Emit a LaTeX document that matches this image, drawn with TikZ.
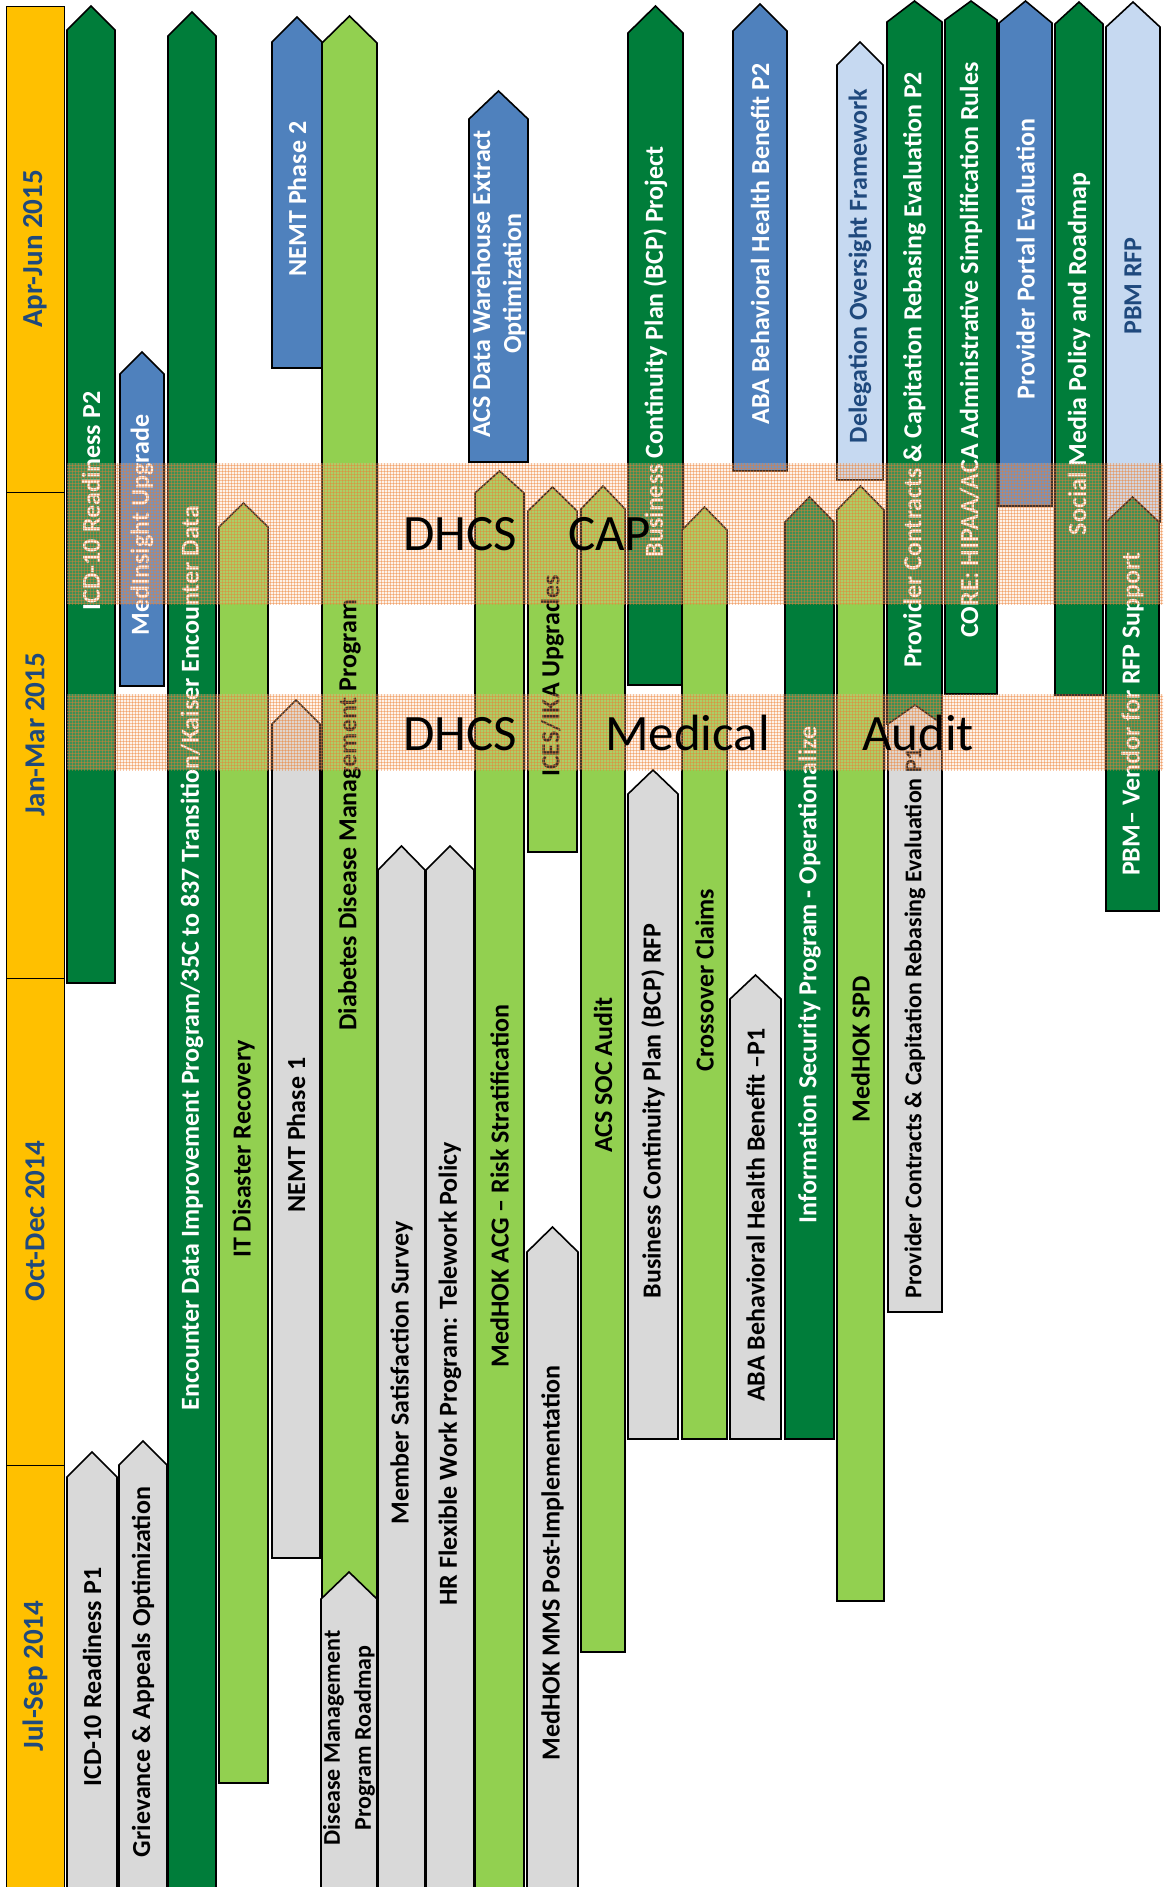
\documentclass[tikz,border=0pt]{standalone}
\usepackage{fontspec}
\setmainfont{Carlito}
\usetikzlibrary{patterns}
\definecolor{dgreen}{RGB}{0,125,58}
\definecolor{lgreen}{RGB}{146,208,80}
\definecolor{bblue}{RGB}{79,129,189}
\definecolor{pblue}{RGB}{198,217,241}
\definecolor{lgray}{RGB}{217,217,217}
\definecolor{navy}{RGB}{31,73,125}
\definecolor{gold}{RGB}{255,192,0}
\definecolor{bandfill}{RGB}{248,203,173}
\definecolor{bandline}{RGB}{237,125,49}
\tikzset{
 barline/.style={draw=black, line width=1.6pt, line join=miter},
 dg/.style={barline, fill=dgreen},
 lg/.style={barline, fill=lgreen},
 bl/.style={barline, fill=bblue},
 pb/.style={barline, fill=pblue},
 gr/.style={barline, fill=lgray},
 lbl/.style={font=\bfseries\fontsize{26}{31}\selectfont, inner sep=0pt, align=center},
 dg text/.style={lbl, text=white},
 lg text/.style={lbl, text=black},
 bl text/.style={lbl, text=white},
 pb text/.style={lbl, text=navy},
 gr text/.style={lbl, text=black},
 yearbox/.style={draw=black, line width=1pt, fill=gold},
 yeartext/.style={font=\bfseries\fontsize{29}{33}\selectfont, text=navy, inner sep=0pt},
 bigtxt/.style={font=\fontsize{51}{55}\selectfont, text=black, inner sep=0pt},
 bandbg/.style={fill=bandfill, opacity=0.25},
 bandgrid/.style={pattern=grid, pattern color=bandline, opacity=0.42},
}
% #1 name, #2 x1, #3 x2, #4 tip y, #5 shoulder y, #6 bottom y, #7 style, #8 label y, #9 label
\newcommand\pbar[9]{%
  \path[#7] (#2,#6) -- (#2,#5) -- ({(#2+#3)/2},#4) -- (#3,#5) -- (#3,#6) -- cycle;
  \node[#7 text, rotate=90] (#1) at ({(#2+#3)/2},#8) {#9};}
\begin{document}
\begin{tikzpicture}[x=1pt, y=-1pt]
\useasboundingbox (0,0) rectangle (1165,1887);
% quarters
\draw[yearbox] (6,6) rectangle (64,492);
\draw[yearbox] (6,492) rectangle (64,978);
\draw[yearbox] (6,978) rectangle (64,1465);
\draw[yearbox] (6,1465) rectangle (64,1890);
\node[yeartext, rotate=90] (q2015b) at (35,249) {Apr-Jun 2015};
\node[yeartext, rotate=90] (q2015a) at (35,735) {Jan-Mar 2015};
\node[yeartext, rotate=90] (q2014d) at (35,1221) {Oct-Dec 2014};
\node[yeartext, rotate=90] (q2014c) at (35,1676) {Jul-Sep 2014};
% bars
\pbar{icdb}{67}{115}{6}{30}{983}{dg}{501}{ICD-10 Readiness P2}
\pbar{medins}{120}{164}{352}{374}{686}{bl}{525}{MedInsight Upgrade}
\pbar{enc}{168}{216}{12}{36}{1890}{dg}{958}{Encounter Data Improvement Program/35C to 837 Transition/Kaiser Encounter Data}
\pbar{itdr}{219}{268}{503}{527}{1783}{lg}{1149}{IT Disaster Recovery}
\pbar{nemtb}{272}{322}{17}{42}{368}{bl}{199}{NEMT Phase 2}
\pbar{nemta}{272}{320}{700}{724}{1558}{gr}{1135}{NEMT Phase 1}
\pbar{diab}{322}{377}{16}{43}{1599}{lg}{815}{Diabetes Disease Management Program}
\pbar{dmroad}{321}{377}{1572}{1599}{1890}{gr}{1738}{\fontsize{24}{31}\selectfont Disease Management\\\fontsize{24}{31}\selectfont Program Roadmap}
\pbar{memsat}{378}{425}{846}{870}{1890}{gr}{1373}{Member Satisfaction Survey}
\pbar{hrflex}{426}{474}{846}{870}{1890}{gr}{1374}{HR Flexible Work Program: Telework Policy}
\pbar{acsdw}{469}{528}{91}{119}{462}{bl}{284}{ACS Data Warehouse Extract\\Optimization}
\pbar{medacg}{475}{524}{471}{493}{1890}{lg}{1186}{MedHOK ACG – Risk Stratification}
\pbar{ices}{528}{577}{487}{511}{852}{lg}{676}{ICES/IKA Upgrades}
\pbar{mms}{527}{578}{1227}{1252}{1890}{gr}{1563}{MedHOK MMS Post-Implementation}
\pbar{acssoc}{581}{625}{486}{509}{1652}{lg}{1075}{ACS SOC Audit}
\pbar{bcpp}{628}{683}{6}{33}{685}{dg}{352}{Business Continuity Plan (BCP) Project}
\pbar{bcprfp}{628}{678}{770}{794}{1439}{gr}{1111}{Business Continuity Plan (BCP) RFP}
\pbar{cross}{682}{727}{507}{530}{1439}{lg}{980}{Crossover Claims}
\pbar{abab}{733}{787}{4}{31}{471}{bl}{244}{ABA Behavioral Health Benefit P2}
\pbar{abaa}{730}{781}{975}{999}{1439}{gr}{1215}{ABA Behavioral Health Benefit –P1}
\pbar{infosec}{785}{834}{497}{522}{1439}{dg}{975}{Information Security Program - Operationalize}
\pbar{deleg}{837}{883}{42}{65}{480}{pb}{266}{Delegation Oversight Framework}
\pbar{spd}{837}{884}{486}{510}{1601}{lg}{1049}{MedHOK SPD}
\pbar{pcpb}{887}{942}{1}{22}{724}{dg}{370}{Provider Contracts \& Capitation Rebasing Evaluation P2}
\pbar{pcpa}{888}{942}{705}{724}{1312}{gr}{1023}{\fontsize{24}{28}\selectfont Provider Contracts \& Capitation Rebasing Evaluation P1}
\pbar{core}{945}{997}{1}{20}{694}{dg}{350}{CORE: HIPAA/ACA Administrative Simplification Rules}
\pbar{portal}{999}{1052}{1}{23}{506}{bl}{259}{Provider Portal Evaluation}
\pbar{social}{1055}{1103}{2}{24}{695}{dg}{354}{Social Media Policy and Roadmap}
\pbar{pbmrfp}{1106}{1160}{2}{27}{522}{pb}{286}{PBM RFP}
\pbar{pbmv}{1106}{1159}{497}{522}{911}{dg}{714}{PBM– Vendor for RFP Support}
\pbar{icda}{67}{117}{1452}{1477}{1890}{gr}{1677}{ICD-10 Readiness P1}
\pbar{griev}{119}{167}{1441}{1465}{1890}{gr}{1672}{Grievance \& Appeals Optimization}
% DHCS bands
\fill[bandbg] (67,463) rectangle (1163,604);
\fill[bandgrid] (67,463) rectangle (1163,604);
\fill[bandbg] (67,694) rectangle (1163,770);
\fill[bandgrid] (67,694) rectangle (1163,770);
\node[bigtxt, anchor=base west] (dhcsa) at (403,550) {DHCS};
\node[bigtxt, anchor=base west] (cap) at (568,550) {CAP};
\node[bigtxt, anchor=base west] (dhcsb) at (403,750) {DHCS};
\node[bigtxt, anchor=base west] (medical) at (605,750) {Medical};
\node[bigtxt, anchor=base west] (audit) at (862,750) {Audit};
\end{tikzpicture}
\end{document}
